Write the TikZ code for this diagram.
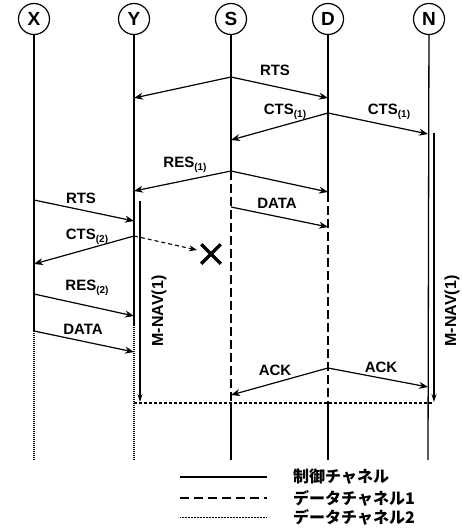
\documentclass[tikz,border=0pt]{standalone}
\usepackage{fontspec}
\setmainfont{Liberation Sans}
\newfontfamily\jpfont{Noto Sans CJK JP}
\usetikzlibrary{arrows.meta,shapes.misc}
\newcommand\smallsub[1]{\raisebox{-2.5pt}{\fontsize{10}{10}\selectfont\bfseries #1}}
\begin{document}
\begin{tikzpicture}[x=1pt,y=-1pt,
  ent/.style={circle,draw,line width=1.2pt,minimum size=31pt,inner sep=0pt,font=\fontsize{19}{19}\selectfont\bfseries},
  life/.style={line width=1.3pt},
  dline/.style={line width=1.3pt,dash pattern=on 9pt off 4pt},
  dotline/.style={line width=1.1pt,dash pattern=on 0.8pt off 1.2pt},
  hline/.style={line width=1.1pt,dash pattern=on 3pt off 2pt},
  msg/.style={line width=1.2pt,-{Stealth[length=9pt,width=7pt]}},
  dmsg/.style={line width=1.1pt,dash pattern=on 4pt off 3pt,-{Stealth[length=8pt,width=6pt]}},
  nav/.style={line width=1.1pt,-{Stealth[length=8pt,width=5pt]}},
  lbl/.style={font=\fontsize{15}{15}\selectfont\bfseries,inner sep=0pt},
  navlbl/.style={font=\fontsize{16}{16}\selectfont\bfseries,inner sep=0pt,rotate=90},
  leg/.style={font=\fontsize{16}{16}\selectfont\jpfont\bfseries,inner sep=0pt,anchor=west},
]
\useasboundingbox (0,0) rectangle (461,530);
% entities
\node[ent] (X) at (34,19) {X};
\node[ent] (Y) at (134,19) {Y};
\node[ent] (S) at (231,19) {S};
\node[ent] (D) at (328,19) {D};
\node[ent] (N) at (429,19) {N};
% lifeline ends
\coordinate (Xe) at (34,460);
\coordinate (Ye) at (134,460);
\coordinate (Se) at (231,460);
\coordinate (De) at (328,460);
\coordinate (Ne) at (428,460);
% message points
\coordinate (s1) at (231,77);  \coordinate (y1) at (134,98);  \coordinate (d1) at (328,98);
\coordinate (d2) at (328,113); \coordinate (s2) at (231,140); \coordinate (n2) at (428,134);
\coordinate (s3) at (231,171); \coordinate (y3) at (134,191); \coordinate (d3) at (328,192);
\coordinate (s4) at (231,207); \coordinate (d4) at (328,227);
\coordinate (x5) at (34,200);  \coordinate (y5) at (134,221);
\coordinate (y6) at (134,236); \coordinate (x6) at (34,264);
\coordinate (x7) at (34,294);  \coordinate (y7) at (134,316);
\coordinate (x8) at (34,331);  \coordinate (y8) at (134,352);
\coordinate (d9) at (328,368); \coordinate (s9) at (231,395); \coordinate (n9) at (428,387);
% lifeline switch points
\coordinate (yb) at (134,325);
\coordinate (db) at (328,193);
\coordinate (sh) at (231,403);
\coordinate (dh) at (328,403);
\coordinate (yh) at (134,403);
\coordinate (nh) at (434,403);
% lifelines
\draw[life] (X) -- (x8);
\draw[dotline] (x8) -- (Xe);
\draw[life] (Y) -- (yb);
\draw[dotline] (yb) -- (Ye);
\draw[life] (S) -- (s3);
\draw[dline] (s3) -- (sh);
\draw[life] (sh) -- (Se);
\draw[life] (D) -- (db);
\draw[dline] (db) -- (dh);
\draw[life] (dh) -- (De);
\draw[life] (N) -- (Ne);
% horizontal end line
\draw[hline] (yh) -- (nh);
% M-NAV
\coordinate (ynav1) at (140,201); \coordinate (ynav2) at (140,402);
\coordinate (nnav1) at (434,133); \coordinate (nnav2) at (434,402);
\draw[nav] (ynav1) -- (ynav2);
\draw[nav] (nnav1) -- (nnav2);
\node[navlbl] (navY) at (159,311) {M-NAV(1)};
\node[navlbl] (navN) at (452,311) {M-NAV(1)};
% messages
\draw[msg] (s1) -- (y1);
\draw[msg] (s1) -- (d1);
\node[lbl] (rts1) at (275,70) {RTS};
\draw[msg] (d2) -- (s2);
\draw[msg] (d2) -- (n2);
\node[lbl] (cts1a) at (285,112) {CTS\smallsub{(1)}};
\node[lbl] (cts1b) at (389,112) {CTS\smallsub{(1)}};
\draw[msg] (s3) -- (y3);
\draw[msg] (s3) -- (d3);
\node[lbl] (res1) at (185,165) {RES\smallsub{(1)}};
\draw[msg] (s4) -- (d4);
\node[lbl] (data1) at (277,203) {DATA};
\draw[msg] (x5) -- (y5);
\node[lbl] (rts2) at (81,198) {RTS};
\draw[msg] (y6) -- (x6);
\node[lbl] (cts2) at (87,237) {CTS\smallsub{(2)}};
\node[cross out,draw,line width=3.5pt,minimum size=16pt,inner sep=0pt] (xm) at (211,254) {};
\coordinate (xmin) at (197,250);
\draw[dmsg] (y6) -- (xmin);
\draw[msg] (x7) -- (y7);
\node[lbl] (res2) at (87,288) {RES\smallsub{(2)}};
\draw[msg] (x8) -- (y8);
\node[lbl] (data2) at (83,329) {DATA};
\draw[msg] (d9) -- (s9);
\draw[msg] (d9) -- (n9);
\node[lbl] (ack1) at (275,370) {ACK};
\node[lbl] (ack2) at (381,367) {ACK};
% legend
\coordinate (l1a) at (180,477); \coordinate (l1b) at (267,477);
\coordinate (l2a) at (180,498); \coordinate (l2b) at (267,498);
\coordinate (l3a) at (180,517); \coordinate (l3b) at (267,517);
\draw[line width=1.2pt] (l1a) -- (l1b);
\draw[line width=1.3pt,dash pattern=on 9pt off 5pt] (l2a) -- (l2b);
\draw[line width=0.9pt,dash pattern=on 0.6pt off 0.9pt] (l3a) -- (l3b);
\node[leg] (t1) at (293,477) {制御チャネル};
\node[leg] (t2) at (293,498) {データチャネル1};
\node[leg] (t3) at (293,517) {データチャネル2};
\end{tikzpicture}
\end{document}
